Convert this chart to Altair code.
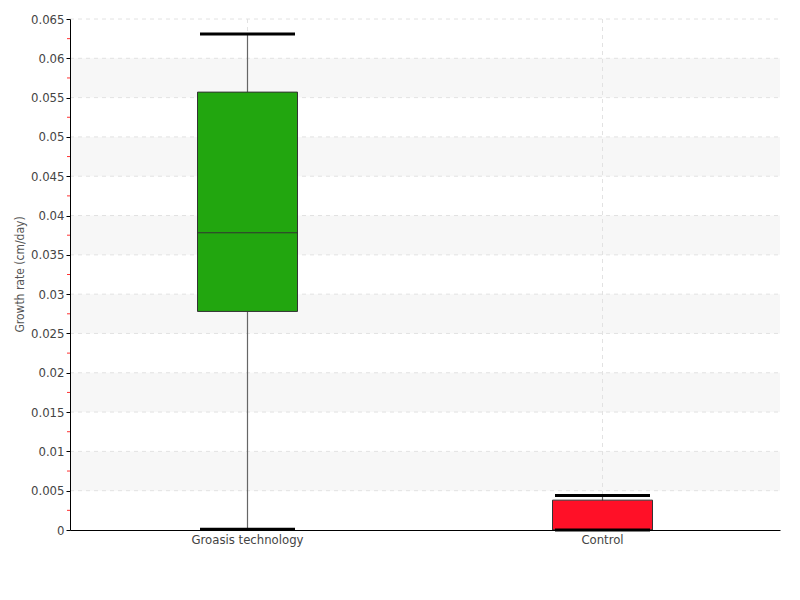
import altair as alt
import pandas as pd

groups = ["Groasis technology", "Control"]
whisker_low = [0.0001, 0.0]
q1 = [0.0278, 0.0]
median = [0.0378, 0.0]
q3 = [0.0557, 0.0038]
whisker_high = [0.0631, 0.0044]
colors = ["#22a60f", "#ff1027"]

band_lo = [0.005, 0.015, 0.025, 0.035, 0.045, 0.055]
band_hi = [0.01, 0.02, 0.03, 0.04, 0.05, 0.06]
minor_ticks = [0.0025, 0.0075, 0.0125, 0.0175, 0.0225, 0.0275, 0.0325,
               0.0375, 0.0425, 0.0475, 0.0525, 0.0575, 0.0625]
major_ticks = [0, 0.005, 0.01, 0.015, 0.02, 0.025, 0.03, 0.035, 0.04,
               0.045, 0.05, 0.055, 0.06, 0.065]

FONT = "'DejaVu Sans Condensed', 'Liberation Sans Narrow', Roboto, sans-serif"

df = pd.DataFrame({"group": groups, "lo": whisker_low, "q1": q1, "med": median,
                   "q3": q3, "hi": whisker_high, "color": colors})
bands = pd.DataFrame({"lo": band_lo, "hi": band_hi})
minors = pd.DataFrame({"v": minor_ticks})
grid_df = pd.DataFrame({"v": major_ticks[1:]})

yscale = alt.Scale(domain=[0, 0.065], nice=False, zero=True)
yaxis = alt.Axis(values=major_ticks, format="~g", grid=False,
                 labelOverlap=False, labelBound=False, zindex=1,
                 domainColor="#000", tickColor="#000", tickSize=4,
                 labelFont=FONT, labelFontSize=13, labelColor="#444",
                 titleFont=FONT, titleFontSize=12, titleColor="#555",
                 titleFontWeight="normal", titleX=-44, titleY=255)
YT = "Growth rate (cm/day)"

xenc = alt.X("group:N", sort=groups, title=None,
             scale=alt.Scale(paddingInner=0, paddingOuter=0),
             axis=alt.Axis(labelAngle=0, ticks=False, domainColor="#000",
                           grid=False, labelFont=FONT, labelFontSize=13,
                           labelColor="#444", labelPadding=3, zindex=1))


def Y(field):
    return alt.Y(field, scale=yscale, axis=yaxis, title=YT)


bg = alt.Chart(bands).mark_rect(color="#f7f7f7").encode(
    y=Y("lo:Q"), y2="hi:Q", x=alt.value(0), x2=alt.value(710))

hgrid = alt.Chart(grid_df).mark_rule(color="#e2e2e2", strokeDash=[4, 4],
                                     strokeWidth=1).encode(
    y=Y("v:Q"), x=alt.value(0), x2=alt.value(710))

vgrid = alt.Chart(df).mark_rule(color="#e2e2e2", strokeDash=[4, 4],
                                strokeWidth=1).encode(
    x=xenc, y=alt.value(0), y2=alt.value(511))

minor = alt.Chart(minors).mark_rule(color="#ff3333", strokeWidth=1).encode(
    y=Y("v:Q"), x=alt.value(-3), x2=alt.value(0))

base = alt.Chart(df)
whisk = base.mark_rule(color="#666", strokeWidth=1.2).encode(
    x=xenc, y=Y("lo:Q"), y2="hi:Q")
box = base.mark_bar(size=100, stroke="#333", strokeWidth=1, opacity=1).encode(
    x=xenc, y=Y("q1:Q"), y2="q3:Q",
    color=alt.Color("color:N", scale=None))
med = base.mark_tick(size=100, thickness=1, color="#333", opacity=1).encode(
    x=xenc, y=Y("med:Q"))
cap_hi = base.mark_tick(size=95, thickness=3, color="#000", opacity=1).encode(
    x=xenc, y=Y("hi:Q"))
cap_lo = base.mark_tick(size=95, thickness=3, color="#000", opacity=1).encode(
    x=xenc, y=Y("lo:Q"))

chart = alt.layer(bg, hgrid, vgrid, minor, whisk, box, med, cap_hi, cap_lo).properties(
    width=710, height=511,
    padding={"left": 62, "top": 11, "right": 12, "bottom": 40},
    autosize=alt.AutoSizeParams(type="none"),
    background="white",
).configure_view(stroke=None)

chart.save("out.html", embed_options={"renderer": "svg", "actions": False})
